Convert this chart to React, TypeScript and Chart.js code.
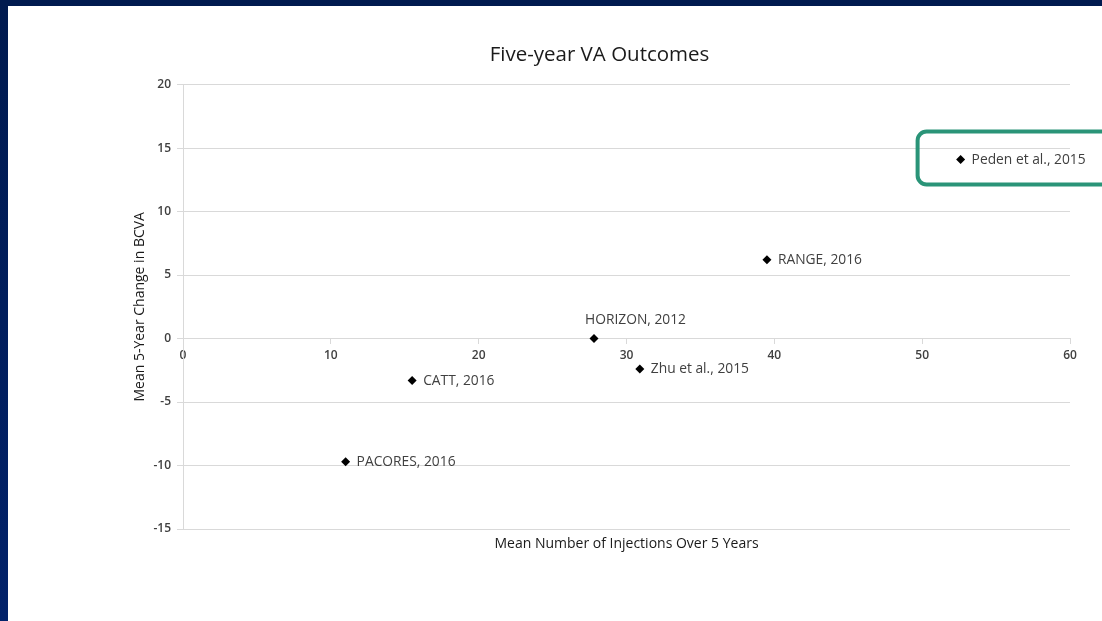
import { useEffect, useRef } from "react";
import { Chart, registerables } from "chart.js";

Chart.register(...registerables);

// ---- data ----
const studies = [
  "PACORES, 2016",
  "CATT, 2016",
  "HORIZON, 2012",
  "Zhu et al., 2015",
  "RANGE, 2016",
  "Peden et al., 2015",
];
const meanInjections = [11.0, 15.5, 27.8, 30.9, 39.5, 52.6];
const bcvaChange = [-9.7, -3.3, 0.0, -2.4, 6.2, 14.1];
const highlightedStudy = "Peden et al., 2015";

const chartTitle = "Five-year VA Outcomes";
const xTitle = "Mean Number of Injections Over 5 Years";
const yTitle = "Mean 5-Year Change in BCVA";

// label placement (style, not data)
const labelAbove = new Set(["HORIZON, 2012"]);

const FONT = "'Open Sans', 'Noto Sans', sans-serif";
const TEXT = "#404040";
const GRID = "#d9d9d9";

const pointLabelPlugin = {
  id: "pointLabels",
  afterDatasetsDraw(chart: any) {
    const ctx = chart.ctx;
    const meta = chart.getDatasetMeta(0);
    ctx.save();
    ctx.font = `13.8px ${FONT}`;
    ctx.fillStyle = TEXT;
    meta.data.forEach((el: any, i: number) => {
      const name = studies[i];
      ctx.textAlign = "left";
      ctx.textBaseline = "middle";
      if (labelAbove.has(name)) {
        ctx.fillText(name, el.x - 9, el.y - 18);
      } else {
        ctx.fillText(name, el.x + 11, el.y + 0.5);
      }
      if (name === highlightedStudy) {
        const x0 = el.x - 43;
        const y0 = el.y - 28;
        const w = chart.width - x0 + 30;
        const h = 53;
        ctx.strokeStyle = "#2a9478";
        ctx.lineWidth = 4;
        ctx.beginPath();
        (ctx as any).roundRect(x0, y0, w, h, 9);
        ctx.stroke();
      }
    });
    ctx.restore();
  },
};

export default function App() {
  const ref = useRef<HTMLCanvasElement | null>(null);

  useEffect(() => {
    if (!ref.current) return;
    const chart = new Chart(ref.current, {
      type: "scatter",
      data: {
        datasets: [
          {
            label: "Studies",
            data: meanInjections.map((x, i) => ({ x, y: bcvaChange[i] })),
            pointStyle: "rectRot",
            pointRadius: 4.5,
            pointBackgroundColor: "#000",
            pointBorderColor: "#000",
            pointBorderWidth: 0,
          },
        ],
      },
      plugins: [pointLabelPlugin],
      options: {
        responsive: false,
        animation: false,
        layout: { padding: { left: 121, right: 32, top: 0, bottom: 65 } },
        plugins: {
          legend: { display: false },
          tooltip: { enabled: false },
          title: {
            display: true,
            text: chartTitle,
            color: "#1a1a1a",
            font: { family: FONT, size: 20.5, weight: "normal" },
            padding: { top: 37, bottom: 17 },
          },
        },
        scales: {
          x: {
            type: "linear",
            position: { y: 0 },
            min: 0,
            max: 60,
            ticks: {
              stepSize: 10,
              color: TEXT,
              padding: 5,
              font: { family: FONT, size: 12, weight: "600" },
            },
            grid: { drawOnChartArea: false, drawTicks: true, tickLength: 5, color: GRID },
            border: { display: true, color: GRID, width: 1 },
          },
          x2: {
            type: "linear",
            position: "bottom",
            min: 0,
            max: 60,
            ticks: { display: false },
            grid: { display: false },
            border: { display: false },
            title: {
              display: true,
              text: xTitle,
              color: "#1a1a1a",
              font: { family: FONT, size: 14 },
              padding: { top: 4, bottom: 4 },
            },
            afterFit: (s: any) => {
              s.height = 27;
            },
          },
          y: {
            type: "linear",
            min: -15,
            max: 20,
            ticks: {
              stepSize: 5,
              color: TEXT,
              padding: 6,
              font: { family: FONT, size: 12, weight: "600" },
            },
            grid: { color: GRID, lineWidth: 1, tickLength: 6 },
            border: { display: true, color: GRID, width: 1 },
            title: {
              display: true,
              text: yTitle,
              color: "#1a1a1a",
              font: { family: FONT, size: 14 },
              padding: { top: 3, bottom: 4 },
            },
            afterFit: (s: any) => {
              s.width = 54;
            },
          },
        },
      },
    } as any);
    return () => chart.destroy();
  }, []);

  return (
    <div
      style={{
        position: "fixed",
        left: 0,
        top: 0,
        width: 1102,
        height: 621,
        background: "linear-gradient(180deg, #001a4f 0%, #02226a 100%)",
      }}
    >
      <div
        style={{
          position: "absolute",
          left: 8,
          top: 6,
          width: 1094,
          height: 615,
          background: "#ffffff",
        }}
      >
        <canvas ref={ref} width={1094} height={615} style={{ display: "block" }} />
      </div>
    </div>
  );
}
